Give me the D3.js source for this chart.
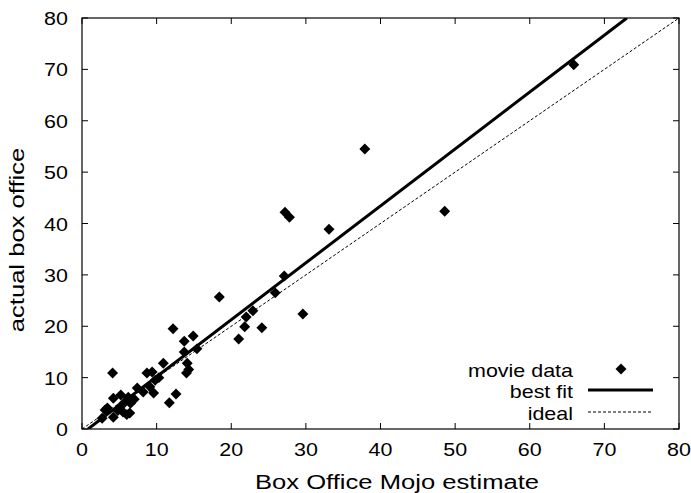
<!DOCTYPE html>
<html><head><meta charset="utf-8">
<script src="https://cdn.jsdelivr.net/npm/d3@7"></script>
<style>body{margin:0;background:#fff}svg{display:block}text{font-family:"Liberation Sans",Arial,sans-serif;fill:#000}</style>
</head><body><svg id="c" width="691" height="493"></svg>
<script>
const estimate = [65.9,37.9,48.6,27.2,27.8,33.1,27.1,25.9,22.9,22.0,29.6,21.8,24.1,21.0,18.4,12.2,13.7,14.9,13.7,15.4,14.1,14.0,14.3,10.9,8.7,9.4,9.8,7.4,9.1,9.6,12.6,11.7,6.2,6.5,4.2,5.2,3.4,5.1,5.5,6.4,4.2,2.7,4.1,5.8,3.1,10.3,8.2,4.8,6.0,7.0];
const actual   = [70.9,54.5,42.4,42.2,41.2,38.9,29.8,26.5,23.0,21.8,22.4,19.9,19.7,17.5,25.7,19.5,17.1,18.1,15.0,15.6,12.8,10.9,11.6,12.8,10.9,11.1,9.5,8.0,8.2,7.0,6.8,5.1,6.2,5.0,6.0,6.6,4.1,4.3,3.3,3.1,2.3,2.1,10.9,5.3,3.7,10.0,7.2,3.6,2.8,5.8];
const fitSlope = 1.108, fitIntercept = -0.9;
const xTicks = [0,10,20,30,40,50,60,70,80];
const yTicks = [0,10,20,30,40,50,60,70,80];
const legendLabels = ["movie data","best fit","ideal"];
const xTitle = "Box Office Mojo estimate", yTitle = "actual box office";

const svg = d3.select("#c");
const L=82,R=679,T=18,B=429;
const x = d3.scaleLinear().domain([0,80]).range([L,R]);
const y = d3.scaleLinear().domain([0,80]).range([B,T]);
const fs = 19, sx = 1.13, tfs = 20, tsx = 1.28;

function txt(px,py,s,anchor,size,stretch,rot){
  svg.append("text").attr("transform",`translate(${px},${py})${rot?` rotate(${rot})`:""} scale(${stretch},1)`)
    .attr("text-anchor",anchor).attr("font-size",size).text(s);
}

svg.append("defs").append("clipPath").attr("id","clip").append("rect").attr("x",L).attr("y",T).attr("width",R-L).attr("height",B-T);
const g = svg.append("g").attr("clip-path","url(#clip)");

// ideal
g.append("line").attr("x1",x(0)).attr("y1",y(0)).attr("x2",x(80)).attr("y2",y(80))
 .attr("stroke","#000").attr("stroke-width",1).attr("stroke-dasharray","3,2");
// best fit
const x0 = -fitIntercept/fitSlope, x1=(80-fitIntercept)/fitSlope;
g.append("line").attr("x1",x(x0)).attr("y1",y(0)).attr("x2",x(x1)).attr("y2",y(80))
 .attr("stroke","#000").attr("stroke-width",3);

const diamond = d3.symbol().type(d3.symbolSquare).size(60);
g.selectAll("path.pt").data(estimate.map((e,i)=>[e,actual[i]])).join("path")
 .attr("d",diamond).attr("transform",d=>`translate(${x(d[0])},${y(d[1])}) rotate(45)`).attr("fill","#000");

// frame and ticks
svg.append("rect").attr("x",L).attr("y",T).attr("width",R-L).attr("height",B-T).attr("fill","none").attr("stroke","#000").attr("stroke-width",1.2);
const tl=6;
xTicks.forEach(t=>{
  svg.append("line").attr("x1",x(t)).attr("x2",x(t)).attr("y1",B).attr("y2",B-tl).attr("stroke","#000");
  svg.append("line").attr("x1",x(t)).attr("x2",x(t)).attr("y1",T).attr("y2",T+tl).attr("stroke","#000");
  txt(x(t),B+27,t,"middle",fs,sx);
});
yTicks.forEach(t=>{
  svg.append("line").attr("x1",L).attr("x2",L+tl).attr("y1",y(t)).attr("y2",y(t)).attr("stroke","#000");
  svg.append("line").attr("x1",R).attr("x2",R-tl).attr("y1",y(t)).attr("y2",y(t)).attr("stroke","#000");
  txt(L-14,y(t)+7,t,"end",fs,sx);
});
txt(397,489,xTitle,"middle",tfs,tsx);
txt(24,240,yTitle,"middle",tfs,tsx,-90);

// legend
const ly=[369,390,412];
legendLabels.forEach((l,i)=>{ txt(573,ly[i]+7.5,l,"end",fs,sx); });
svg.append("path").attr("d",diamond).attr("transform",`translate(621,${ly[0]}) rotate(45)`).attr("fill","#000");
svg.append("line").attr("x1",588).attr("x2",653).attr("y1",ly[1]).attr("y2",ly[1]).attr("stroke","#000").attr("stroke-width",3);
svg.append("line").attr("x1",588).attr("x2",653).attr("y1",ly[2]).attr("y2",ly[2]).attr("stroke","#000").attr("stroke-width",1).attr("stroke-dasharray","3,2");
</script></body></html>
